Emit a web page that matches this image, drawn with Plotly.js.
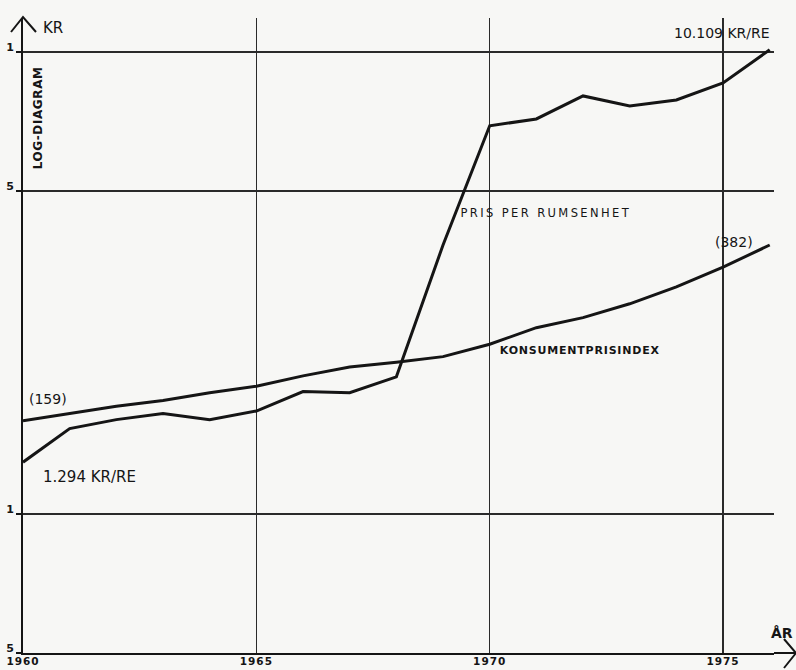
<!DOCTYPE html>
<html>
<head>
<meta charset="utf-8">
<script src="https://cdn.plot.ly/plotly-3.0.1.min.js"></script>
<style>
  html, body { margin: 0; padding: 0; background: #f7f7f5; }
  #chart { width: 796px; height: 670px; }
  /* letter spacing for the lettered series labels */
  .annotation[data-index="6"] text { letter-spacing: 2.4px; }
  .annotation[data-index="7"] text { letter-spacing: 0.8px; }
  .annotation[data-index="1"] text { letter-spacing: 0.6px; }
  .xtick text { letter-spacing: 1px; }
</style>
</head>
<body>
<div id="chart"></div>
<script>
// Years on the horizontal axis
const years = [1960, 1961, 1962, 1963, 1964, 1965, 1966, 1967, 1968,
               1969, 1970, 1971, 1972, 1973, 1974, 1975, 1976];

// Pris per rumsenhet, kr per rumsenhet (log scale)
const prisPerRumsenhet = [1.294, 1.53, 1.60, 1.65, 1.60, 1.67, 1.84, 1.83, 1.98,
                          3.82, 6.92, 7.16, 8.03, 7.64, 7.87, 8.57, 10.109];

// Konsumentprisindex, plotted on the same log scale as index / 100
const konsumentprisindex = [159, 165, 171, 176, 183, 189, 199, 208, 213,
                            219, 233, 253, 266, 285, 310, 342, 382];

// Axis ticks
const xTickVals = [1960, 1965, 1970, 1975];
const xTickText = ['1960', '1965', '1970', '1975'];
const yTickVals = [0.5, 1, 5, 10];
const yTickText = ['5', '1', '5', '1'];

const INK = '#151515';
const FONT = 'DejaVu Sans, Liberation Sans, sans-serif';

// plot frame in pixels
const M = { l: 23, r: 22, t: 18, b: 17 };
const W = 796, H = 670;
const PW = W - M.l - M.r, PH = H - M.t - M.b;
const px = x => (x - M.l) / PW;          // page x -> paper x
const py = y => (H - M.b - y) / PH;      // page y -> paper y

const traces = [
  {
    x: years,
    y: prisPerRumsenhet,
    type: 'scatter',
    mode: 'lines',
    line: { color: INK, width: 3 },
    hoverinfo: 'skip'
  },
  {
    x: years,
    y: konsumentprisindex.map(v => v / 100),
    type: 'scatter',
    mode: 'lines',
    line: { color: INK, width: 3 },
    hoverinfo: 'skip'
  }
];

function label(text, x, y, size, opts) {
  return Object.assign({
    text: text, xref: 'paper', yref: 'paper', x: px(x), y: py(y),
    xanchor: 'center', yanchor: 'middle', showarrow: false,
    font: { family: FONT, size: size, color: INK }
  }, opts || {});
}

const last = years.length - 1;
const annotations = [
  label('KR', 53, 28, 15),
  label('LOG-DIAGRAM', 38, 118, 12, { textangle: -90, font: { family: FONT, size: 12, color: INK, weight: 'bold' } }),
  label(prisPerRumsenhet[last].toFixed(3) + ' KR/RE', 722, 33, 14),
  label(prisPerRumsenhet[0].toFixed(3) + ' KR/RE', 89, 477, 15),
  label('(' + konsumentprisindex[0] + ')', 48, 399, 14),
  label('(' + konsumentprisindex[last] + ')', 734, 242, 14),
  label('PRIS PER RUMSENHET', 546, 213, 11.5),
  label('KONSUMENTPRISINDEX', 580, 350, 11, { font: { family: FONT, size: 11, color: INK, weight: 'bold' } }),
  label('ÅR', 782, 633, 14, { font: { family: FONT, size: 14, color: INK, weight: 'bold' } })
];

// axis arrowheads and the extension of the time axis
const shapes = [
  { type: 'path', xref: 'paper', yref: 'paper',
    path: `M ${px(11)} ${py(32)} L ${px(23)} ${py(17)} L ${px(36)} ${py(32)}`,
    line: { color: INK, width: 2 } },
  { type: 'line', xref: 'paper', yref: 'paper',
    x0: 1, x1: px(796), y0: 0, y1: 0, line: { color: INK, width: 2 } },
  { type: 'path', xref: 'paper', yref: 'paper',
    path: `M ${px(784)} ${py(639)} L ${px(796)} ${py(653)} L ${px(784)} ${py(668)}`,
    line: { color: INK, width: 2 } }
];

const layout = {
  width: W, height: H,
  margin: M,
  paper_bgcolor: '#f7f7f5',
  plot_bgcolor: '#f7f7f5',
  showlegend: false,
  hovermode: false,
  xaxis: {
    range: [1960, 1960 + PW / 46.67],
    tickvals: xTickVals, ticktext: xTickText,
    ticks: '', showgrid: true, gridcolor: '#2a2a2a', gridwidth: 1.5,
    showline: true, linecolor: INK, linewidth: 2,
    zeroline: false, automargin: false,
    ticklabelstandoff: -3,
    tickfont: { family: FONT, size: 10.5, color: INK, weight: 'bold' }
  },
  yaxis: {
    type: 'log',
    range: [Math.log10(0.5), Math.log10(0.5) + PH / 462],
    tickvals: yTickVals, ticktext: yTickText,
    ticks: 'outside', ticklen: 5, tickwidth: 1.4, tickcolor: INK,
    showgrid: true, gridcolor: '#2a2a2a', gridwidth: 1.4,
    showline: true, linecolor: INK, linewidth: 2,
    zeroline: false, automargin: false,
    ticklabelshift: -5,
    tickfont: { family: FONT, size: 11, color: INK, weight: 'bold' }
  },
  annotations: annotations,
  shapes: shapes
};

Plotly.newPlot('chart', traces, layout, { displayModeBar: false, staticPlot: true });
</script>
</body>
</html>
